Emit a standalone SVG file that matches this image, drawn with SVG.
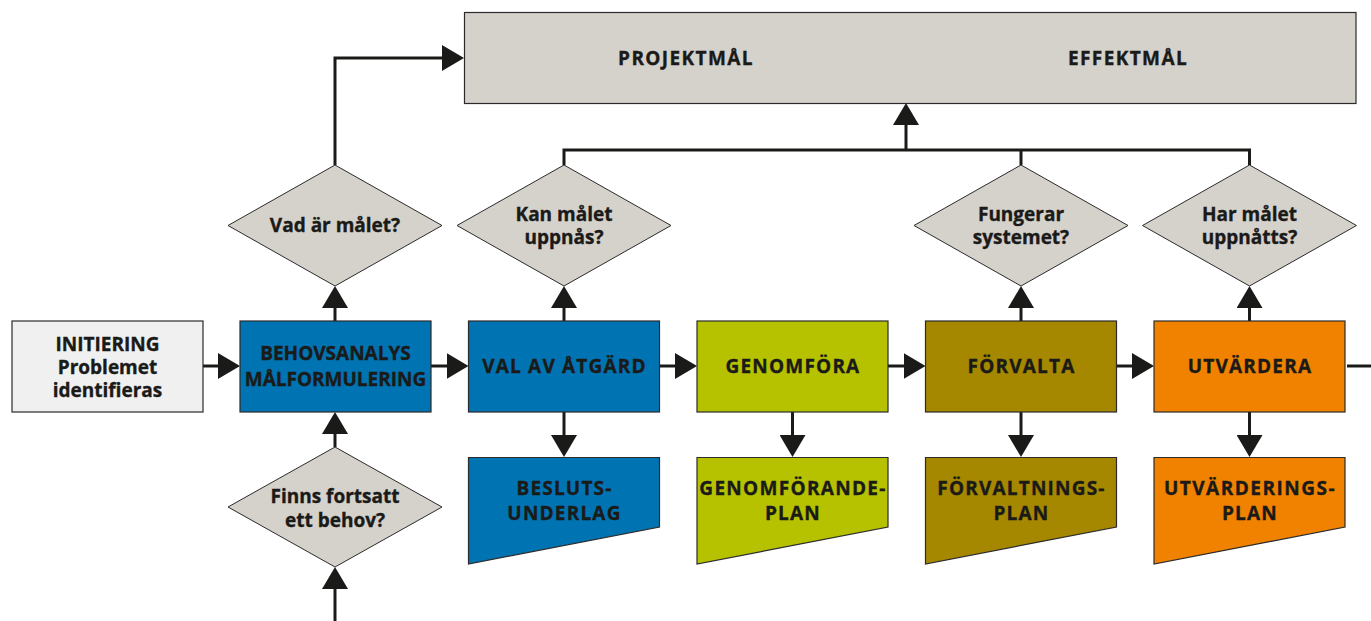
<svg xmlns="http://www.w3.org/2000/svg" width="1371" height="621" viewBox="0 0 1371 621">
<style>
  .t { font-family: "Open Sans", "Noto Sans", "Liberation Sans", sans-serif; font-weight: 700; font-size: 19px; fill: #1a1a18; stroke: #1a1a18; stroke-width: 0.35; text-anchor: middle; }
  .cap { letter-spacing: 1.2px; }
  .wide { letter-spacing: 1.4px; }
  .box { stroke: #2b2b2b; stroke-width: 1.2; }
  .gray { fill: #d5d1cb; }
  .init { fill: #f0f0f0; }
  .blue { fill: #0073b2; }
  .lime { fill: #b6c200; }
  .olive { fill: #a58700; }
  .orange { fill: #f08200; }
  .dia { fill: #d5d1cb; stroke: #2b2b2b; stroke-width: 1; }
  .con { fill: none; stroke: #1a1a18; stroke-width: 3; }
  .arr { marker-end: url(#ah); }
</style>
<defs>
  <marker id="ah" viewBox="0 0 22 26" refX="14" refY="13" markerWidth="22" markerHeight="26" orient="auto" markerUnits="userSpaceOnUse">
    <path d="M0,0 L22,13 L0,26 Z" fill="#1a1a18"/>
  </marker>
</defs>
<rect width="1371" height="621" fill="#ffffff"/>

<g id="connectors">
  <path class="con arr" d="M202,366 H232"/>
  <path class="con arr" d="M431,366 H460.5"/>
  <path class="con arr" d="M659.5,366 H689"/>
  <path class="con arr" d="M888,366 H917.5"/>
  <path class="con arr" d="M1116.5,366 H1146"/>
  <path class="con" d="M1347,366 H1371"/>
  <path class="con arr" d="M335,321 V294"/>
  <path class="con arr" d="M335,165 V58 H456"/>
  <path class="con arr" d="M335,447 V420"/>
  <path class="con arr" d="M335,621 V575"/>
  <path class="con arr" d="M564,321 V294"/>
  <path class="con arr" d="M1021,321 V294"/>
  <path class="con arr" d="M1249.5,321 V294"/>
  <path class="con arr" d="M564,412 V449"/>
  <path class="con arr" d="M792.5,412 V449"/>
  <path class="con arr" d="M1021,412 V449"/>
  <path class="con arr" d="M1249.5,412 V449"/>
  <path class="con" d="M564,165 V150 H1249.5 V165"/>
  <path class="con" d="M1021,150 V165"/>
  <path class="con arr" d="M906,150 V111"/>
</g>

<g id="goals">
  <rect class="box gray" x="464.5" y="12.5" width="891.5" height="91"/>
  <text class="t wide" x="686" y="64.5">PROJEKTMÅL</text>
  <text class="t wide" x="1128" y="64.5">EFFEKTMÅL</text>
</g>

<g id="initiering">
  <rect class="box init" x="12" y="321" width="191" height="91"/>
  <text class="t" x="107.5" y="351">INITIERING</text>
  <text class="t" x="107.5" y="374">Problemet</text>
  <text class="t" x="107.5" y="397">identifieras</text>
</g>

<g id="behovsanalys">
  <rect class="box blue" x="240" y="321" width="191" height="91"/>
  <text class="t" x="335.5" y="360">BEHOVSANALYS</text>
  <text class="t" x="335.5" y="386">MÅLFORMULERING</text>
</g>

<g id="val">
  <rect class="box blue" x="468.5" y="321" width="191" height="91"/>
  <text class="t cap" x="564.5" y="373">VAL AV ÅTGÄRD</text>
</g>

<g id="genomfora">
  <rect class="box lime" x="697" y="321" width="191" height="91"/>
  <text class="t cap" x="793" y="373">GENOMFÖRA</text>
</g>

<g id="forvalta">
  <rect class="box olive" x="925.5" y="321" width="191" height="91"/>
  <text class="t cap" x="1021.5" y="373">FÖRVALTA</text>
</g>

<g id="utvardera">
  <rect class="box orange" x="1154" y="321" width="191" height="91"/>
  <text class="t cap" x="1250" y="373">UTVÄRDERA</text>
</g>

<g id="beslutsunderlag">
  <polygon class="box blue" points="468.5,457.5 659.5,457.5 659.5,527 468.5,564"/>
  <text class="t cap" x="564.5" y="495">BESLUTS-</text>
  <text class="t cap" x="564.5" y="520">UNDERLAG</text>
</g>

<g id="genomforandeplan">
  <polygon class="box lime" points="697,457.5 888,457.5 888,527 697,564"/>
  <text class="t" x="793" y="495" style="letter-spacing:1.3px">GENOMFÖRANDE-</text>
  <text class="t cap" x="793" y="520">PLAN</text>
</g>

<g id="forvaltningsplan">
  <polygon class="box olive" points="925.5,457.5 1116.5,457.5 1116.5,527 925.5,564"/>
  <text class="t cap" x="1021.5" y="495">FÖRVALTNINGS-</text>
  <text class="t cap" x="1021.5" y="520">PLAN</text>
</g>

<g id="utvarderingsplan">
  <polygon class="box orange" points="1154,457.5 1345,457.5 1345,527 1154,564"/>
  <text class="t" x="1250" y="495" style="letter-spacing:1.5px">UTVÄRDERINGS-</text>
  <text class="t cap" x="1250" y="520">PLAN</text>
</g>

<g id="q-vad">
  <polygon class="dia" points="335,165 442,225.5 335,286 228,225.5"/>
  <text class="t" x="335" y="232">Vad är målet?</text>
</g>

<g id="q-kan">
  <polygon class="dia" points="564,165 671,225.5 564,286 457,225.5"/>
  <text class="t" x="564" y="221">Kan målet</text>
  <text class="t" x="564" y="244">uppnås?</text>
</g>

<g id="q-fungerar">
  <polygon class="dia" points="1021,165 1128,225.5 1021,286 914,225.5"/>
  <text class="t" x="1021" y="221">Fungerar</text>
  <text class="t" x="1021" y="244">systemet?</text>
</g>

<g id="q-har">
  <polygon class="dia" points="1249.5,165 1356.5,225.5 1249.5,286 1142.5,225.5"/>
  <text class="t" x="1249.5" y="221">Har målet</text>
  <text class="t" x="1249.5" y="244">uppnåtts?</text>
</g>

<g id="q-finns">
  <polygon class="dia" points="335,447 442,507 335,567 228,507"/>
  <text class="t" x="335" y="503">Finns fortsatt</text>
  <text class="t" x="335" y="527">ett behov?</text>
</g>
</svg>
